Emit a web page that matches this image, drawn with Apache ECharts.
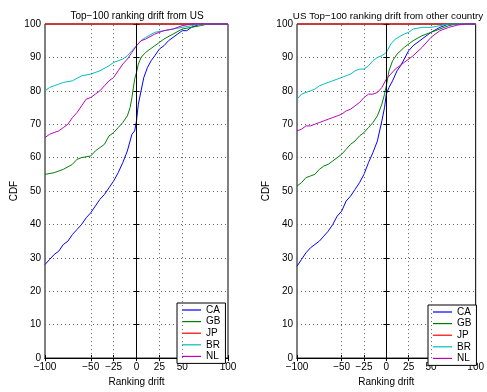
<!DOCTYPE html>
<html>
<head>
<meta charset="utf-8">
<script src="https://cdn.jsdelivr.net/npm/echarts@6/dist/echarts.min.js"></script>
<style>
  html, body { margin: 0; padding: 0; background: #fff; }
  #chart { width: 487px; height: 392px; }
</style>
</head>
<body>
<div id="chart"></div>
<script>
// 两幅 CDF 图：左边 "from US"，右边 "from other country"
var names = ["CA", "GB", "JP", "BR", "NL"];
var colors = ["#0000ff", "#008000", "#ff0000", "#00bfbf", "#bf00bf"];
var titles = ["Top\u2212100 ranking drift from US", "US Top\u2212100 ranking drift from other country"];
var xTicks = [-100, -50, -25, 0, 25, 50, 100];
var xGrid = [-50, -25, 25, 50];

// 左图数据 [drift, CDF]
var leftCA = [[-100,28],[-95,29.5],[-90,31],[-85,32],[-80,34],[-75,35],[-70,37],[-65,38.5],[-60,40],[-55,42],[-50,43.5],[-45,45.5],[-40,47.5],[-35,49],[-30,51],[-25,53],[-20,55.5],[-15,58.5],[-10,62],[-5,67],[-2,68],[0,71],[2,76],[5,80],[8,84],[12,87],[16,89],[20,90.5],[25,92.5],[30,93.5],[35,95],[40,96],[45,97],[50,98],[55,98],[60,99],[70,100],[100,100]];
var leftGB = [[-100,55],[-90,55.5],[-80,56.5],[-70,58],[-65,59.5],[-60,60],[-50,60.5],[-45,62],[-40,63],[-35,64],[-30,66.5],[-25,67.5],[-20,69],[-15,70.5],[-10,72.5],[-7,75],[-5,78],[-2,83.5],[0,85.5],[2,88],[5,90],[10,91.5],[15,92.5],[20,93.5],[25,94.5],[30,95.5],[40,97],[50,98.5],[60,99],[70,99.5],[78,100],[100,100]];
var leftJP = [[-100,100],[100,100]];
var leftBR = [[-100,80],[-95,81],[-90,81.5],[-85,82],[-80,82.5],[-70,83],[-60,84.5],[-50,85],[-40,86],[-30,87.5],[-25,88.5],[-20,89],[-15,89.5],[-10,90.5],[-5,92],[0,93.5],[5,95],[10,96],[20,97.5],[30,98],[40,98.5],[50,99],[60,99.5],[70,100],[100,100]];
var leftNL = [[-100,66],[-95,67],[-90,67.5],[-85,68],[-80,69],[-75,70],[-70,72],[-65,73.5],[-60,75.5],[-55,77.5],[-50,78],[-45,79],[-40,80],[-35,81.5],[-30,83],[-25,84],[-20,86],[-15,88],[-10,89.5],[-5,91.5],[0,93.5],[5,95],[10,95.5],[20,97],[30,98],[40,98.5],[50,99.5],[60,100],[100,100]];

// 右图数据
var rightCA = [[-100,27.5],[-95,29.5],[-90,31.5],[-85,33],[-80,34],[-75,35],[-70,36.5],[-65,38],[-60,40],[-55,42.5],[-50,44],[-45,47],[-40,48.5],[-35,50.5],[-30,52.5],[-25,55],[-20,58.5],[-15,61.5],[-10,65],[-5,71],[-2,75],[0,79],[3,81],[7,83],[12,86],[16,87.5],[20,89.5],[25,92],[30,93.5],[40,95.5],[50,97.5],[60,99],[70,100],[100,100]];
var rightGB = [[-100,51.5],[-95,52.5],[-90,54],[-85,54.5],[-80,55],[-75,56.5],[-70,57.5],[-65,58],[-60,59],[-55,60],[-50,61],[-45,62.5],[-40,64],[-35,65],[-30,66.5],[-25,67.5],[-20,69],[-15,70.5],[-10,72.5],[-5,76],[-2,79],[0,81.5],[3,86],[7,89],[12,91],[20,93],[30,95],[40,96.5],[50,97.5],[60,98.5],[70,99.5],[78,100],[100,100]];
var rightJP = [[-100,100],[100,100]];
var rightBR = [[-100,77.5],[-95,79],[-90,79.5],[-85,80],[-80,80.5],[-75,81.5],[-70,82],[-65,82.5],[-60,83],[-55,83.5],[-50,84],[-45,84.5],[-40,85],[-35,86],[-30,86.5],[-25,86.5],[-20,87.5],[-15,89],[-10,90],[-5,90.5],[0,91.5],[5,94],[10,95.5],[20,97],[25,97.5],[30,98.5],[40,99],[50,99],[60,99.5],[70,100],[100,100]];
var rightNL = [[-100,68],[-95,68.5],[-90,69.5],[-85,69.5],[-80,70],[-75,70.5],[-70,71],[-65,71.5],[-60,72],[-55,72.5],[-50,73],[-45,74],[-40,74.5],[-35,75.5],[-30,76.5],[-25,78],[-20,79],[-15,79],[-10,79.5],[-5,81],[0,83.5],[5,85],[10,86.5],[15,87.5],[20,88.5],[30,90.5],[40,93],[50,96],[60,98],[70,99],[80,99.7],[90,100],[100,100]];

var panels = [[leftCA, leftGB, leftJP, leftBR, leftNL], [rightCA, rightGB, rightJP, rightBR, rightNL]];
var FONT = "Liberation Sans, Arial, sans-serif";

function fmt(v) {
    return v < 0 ? "\u2212" + Math.abs(v) : String(v);
}

var grids = [
    { left: 45, top: 24, width: 183, height: 343 },
    { left: 297, top: 24, width: 183, height: 343 }
];
var legendPos = [{ left: 177, top: 303 }, { left: 428, top: 305 }];
var titleSize = [10, 9.8];
var titleX = [132, 383];

var option = {
    animation: false,
    textStyle: { fontFamily: FONT },
    title: [],
    legend: [],
    grid: [],
    xAxis: [],
    yAxis: [],
    series: []
};

grids.forEach(function (g, i) {
    option.grid.push({ left: g.left, top: g.top, width: g.width, height: g.height, show: true, borderColor: "#000", borderWidth: 1 });
    option.title.push({
        text: titles[i], left: titleX[i], top: 6, textAlign: "center",
        textStyle: { fontSize: titleSize[i], fontWeight: "normal", color: "#000", fontFamily: FONT }
    });
    option.legend.push({
        left: legendPos[i].left, top: legendPos[i].top, orient: "vertical",
        data: names, backgroundColor: "#fff", borderColor: "#000", borderWidth: 1,
        padding: [2, 5, 2, 5], itemGap: 1.6, itemWidth: 19, itemHeight: 10,
        icon: "path://M0,4.4 L19,4.4 L19,5.6 L0,5.6 Z",
        textStyle: { fontSize: 10, color: "#000", fontFamily: FONT },
        selectedMode: false
    });
    // 下方 x 轴
    option.xAxis.push({
        gridIndex: i, type: "value", min: -100, max: 100, position: "bottom",
        name: "Ranking drift", nameLocation: "middle", nameGap: 18,
        nameTextStyle: { fontSize: 10, color: "#000", fontFamily: FONT },
        axisLine: { lineStyle: { color: "#000" } },
        axisTick: { inside: true, length: 3, customValues: xTicks, lineStyle: { color: "#000" } },
        axisLabel: { customValues: xTicks, formatter: fmt, fontSize: 10, color: "#000", margin: 4, fontFamily: FONT },
        splitLine: { show: false }
    });
    // 上方 x 轴（只画刻度）
    option.xAxis.push({
        gridIndex: i, type: "value", min: -100, max: 100, position: "top",
        axisLine: { lineStyle: { color: "#000" } },
        axisTick: { inside: true, length: 3, customValues: xTicks, lineStyle: { color: "#000" } },
        axisLabel: { show: false },
        splitLine: { show: false }
    });
    option.yAxis.push({
        gridIndex: i, type: "value", min: 0, max: 100, interval: 10, position: "left",
        name: "CDF", nameLocation: "middle", nameGap: 26,
        nameTextStyle: { fontSize: 10, color: "#000", fontFamily: FONT },
        axisLine: { show: true, lineStyle: { color: "#000" } },
        axisTick: { show: true, inside: true, length: 3, lineStyle: { color: "#000" } },
        axisLabel: { fontSize: 10, color: "#000", margin: 4, fontFamily: FONT },
        splitLine: { show: true, lineStyle: { color: "#666", type: [1, 3], width: 1 } }
    });
    option.yAxis.push({
        gridIndex: i, type: "value", min: 0, max: 100, interval: 10, position: "right",
        axisLine: { show: true, lineStyle: { color: "#000" } },
        axisTick: { show: true, inside: true, length: 3, lineStyle: { color: "#000" } },
        axisLabel: { show: false },
        splitLine: { show: false }
    });

    // 网格竖线 + x=0 黑线
    var lines = xGrid.map(function (v) {
        return { xAxis: v, lineStyle: { color: "#666", type: [1, 3], width: 1 } };
    });
    lines.push({ xAxis: 0, lineStyle: { color: "#000", type: "solid", width: 1 } });
    option.series.push({
        type: "line", xAxisIndex: i * 2, yAxisIndex: i * 2, data: [], silent: true,
        markLine: { symbol: "none", silent: true, label: { show: false }, data: lines }
    });

    panels[i].forEach(function (d, k) {
        option.series.push({
            name: names[k], type: "line", xAxisIndex: i * 2, yAxisIndex: i * 2,
            data: d, showSymbol: false, symbol: "none", clip: false,
            lineStyle: { color: colors[k], width: 1 }, itemStyle: { color: colors[k] },
            z: 3
        });
    });
});

var myChart = echarts.init(document.getElementById("chart"), null, { renderer: "canvas" });
myChart.setOption(option);
</script>
</body>
</html>
